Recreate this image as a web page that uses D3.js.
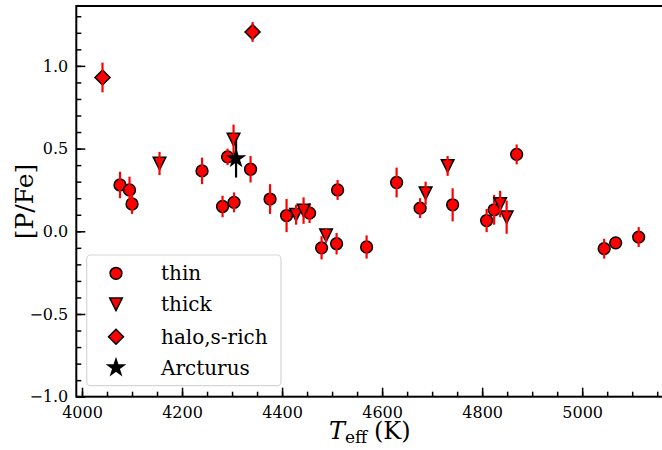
<!DOCTYPE html>
<html><head><meta charset="utf-8">
<script src="https://cdn.jsdelivr.net/npm/d3@7"></script>
<style>body{margin:0;background:#fff}svg{display:block}svg text{font-family:"DejaVu Serif",serif !important}</style>
</head><body><svg id="c" width="662" height="450"></svg>
<script>
// ---- data ----
const thinTeff = [4076,4095,4100,4240,4281,4291,4304,4337,4376,4409,4455,4479,4509,4511,4569,4629,4676,4741,4809,4824,4869,5044,5067,5113];
const thinPFe  = [0.28,0.25,0.165,0.365,0.15,0.45,0.175,0.375,0.195,0.095,0.11,-0.10,-0.075,0.25,-0.095,0.295,0.14,0.16,0.065,0.13,0.465,-0.105,-0.07,-0.035];
const thinErr  = [0.08,0.08,0.06,0.08,0.065,0.05,0.06,0.08,0.09,0.10,0.06,0.07,0.065,0.06,0.07,0.09,0.06,0.10,0.07,0.09,0.06,0.06,0.02,0.06];
const thickTeff = [4155,4303,4428,4443,4488,4687,4731,4836,4849];
const thickPFe  = [0.41,0.555,0.10,0.125,-0.025,0.23,0.395,0.165,0.085];
const thickErr  = [0.07,0.09,0.06,0.08,0.04,0.07,0.06,0.08,0.10];
const haloTeff = [4041,4341];
const haloPFe  = [0.93,1.205];
const haloErr  = [0.09,0.06];
const arcTeff = [4308];
const arcPFe  = [0.44];
const arcErr  = [0.115];
const xMajorTicks = [4000,4200,4400,4600,4800,5000];
const yMajorTicks = [-1.0,-0.5,0.0,0.5,1.0];
const legendLabels = ["thin","thick","halo,s-rich","Arcturus"];

const svg = d3.select("#c");
const L = 76.3, R = 663.7, T = 6, B = 396.7;
const x = d3.scaleLinear().domain([3988.6, 5163]).range([L, R]);
const y = d3.scaleLinear().domain([-1.0, 1.362]).range([B, T]);

// symbol paths
const circ = r => d3.symbol(d3.symbolCircle, Math.PI*r*r)();
const tri = s => `M${-s},${-s}L${s},${-s}L0,${s}Z`;
const dia = s => `M0,${-s}L${s},0L0,${s}L${-s},0Z`;
function star(R){const r=R*0.381966;let p="";for(let i=0;i<10;i++){const a=-Math.PI/2+i*Math.PI/5;const rr=i%2?r:R;p+=(i?"L":"M")+(rr*Math.cos(a)).toFixed(2)+","+(rr*Math.sin(a)).toFixed(2);}return p+"Z";}

const series = [
  {t:thinTeff, v:thinPFe, e:thinErr, path:circ(5.9), fill:"#ff0000", bar:"#ff0000"},
  {t:thickTeff, v:thickPFe, e:thickErr, path:tri(6.3), fill:"#ff0000", bar:"#ff0000"},
  {t:haloTeff, v:haloPFe, e:haloErr, path:dia(7.5), fill:"#ff0000", bar:"#ff0000"},
  {t:arcTeff, v:arcPFe, e:arcErr, path:star(8.5), fill:"#000000", bar:"#000000"}
];

const plot = svg.append("g");
series.forEach(s=>{
  const d = s.t.map((t,i)=>({t, v:s.v[i], e:s.e[i]}));
  const g = plot.append("g");
  g.selectAll("path").data(d).join("path")
    .attr("d", s.path)
    .attr("transform", p=>`translate(${x(p.t)},${y(p.v)})`)
    .attr("fill", s.fill).attr("stroke","#000").attr("stroke-width",1.5);
  g.selectAll("line").data(d).join("line")
    .attr("x1", p=>x(p.t)).attr("x2", p=>x(p.t))
    .attr("y1", p=>y(p.v-p.e)).attr("y2", p=>y(p.v+p.e))
    .attr("stroke", s.bar).attr("stroke-width",2.2);
});

// axes
const fmtY = d => d3.format(".1f")(d).replace("-", "\u2212");
const xAx = svg.append("g").attr("transform",`translate(0,${B})`)
  .call(d3.axisBottom(x).tickValues(xMajorTicks).tickSize(-9).tickPadding(10).tickFormat(d3.format("d")));
const xMin = svg.append("g").attr("transform",`translate(0,${B})`)
  .call(d3.axisBottom(x).tickValues(d3.range(4000,5163,50)).tickSize(-5).tickFormat(""));
const yAx = svg.append("g").attr("transform",`translate(${L},0)`)
  .call(d3.axisLeft(y).tickValues(yMajorTicks).tickSize(-9).tickPadding(8).tickFormat(fmtY));
const yMin = svg.append("g").attr("transform",`translate(${L},0)`)
  .call(d3.axisLeft(y).tickValues(d3.range(-10,14).map(i=>i/10)).tickSize(-5).tickFormat(""));
[xAx,xMin,yAx,yMin].forEach(a=>{
  a.attr("font-family","DejaVu Serif");
  a.select(".domain").remove();
  a.selectAll(".tick line").attr("stroke","#000").attr("stroke-width",1.5);
  a.selectAll(".tick text").style("font-family","'DejaVu Serif', serif").attr("font-size",16).attr("fill","#000");
});
// spines
svg.append("rect").attr("x",L).attr("y",T).attr("width",R-L).attr("height",B-T)
  .attr("fill","none").attr("stroke","#000").attr("stroke-width",2);

// labels
svg.append("text").attr("transform","translate(32.5,201.5) rotate(-90)")
  .attr("text-anchor","middle").attr("font-size",25).text("[P/Fe]");
const xl = svg.append("text").attr("x",329).attr("y",439).attr("font-size",24);
xl.append("tspan").attr("font-style","italic").text("T");
xl.append("tspan").attr("font-size",17).attr("dy",3.5).text("eff");
xl.append("tspan").attr("x",374).attr("dy",-3.5).text("(K)");

// legend
const lg = svg.append("g");
lg.append("rect").attr("x",86.7).attr("y",255).attr("width",194.3).attr("height",130.7).attr("rx",4)
  .attr("fill","#fff").attr("fill-opacity",0.8).attr("stroke","#d6d6d6").attr("stroke-width",1.2);
const rowsY = [273.3,304.3,336.7,367.7];
legendLabels.forEach((lab,i)=>{
  const s = series[i];
  lg.append("path").attr("d", s.path).attr("transform",`translate(116,${rowsY[i]})`)
    .attr("fill", s.fill).attr("stroke","#000").attr("stroke-width",1.5);
  lg.append("text").attr("x",161).attr("y",rowsY[i]+7).attr("font-size",20).text(lab);
});
</script></body></html>
